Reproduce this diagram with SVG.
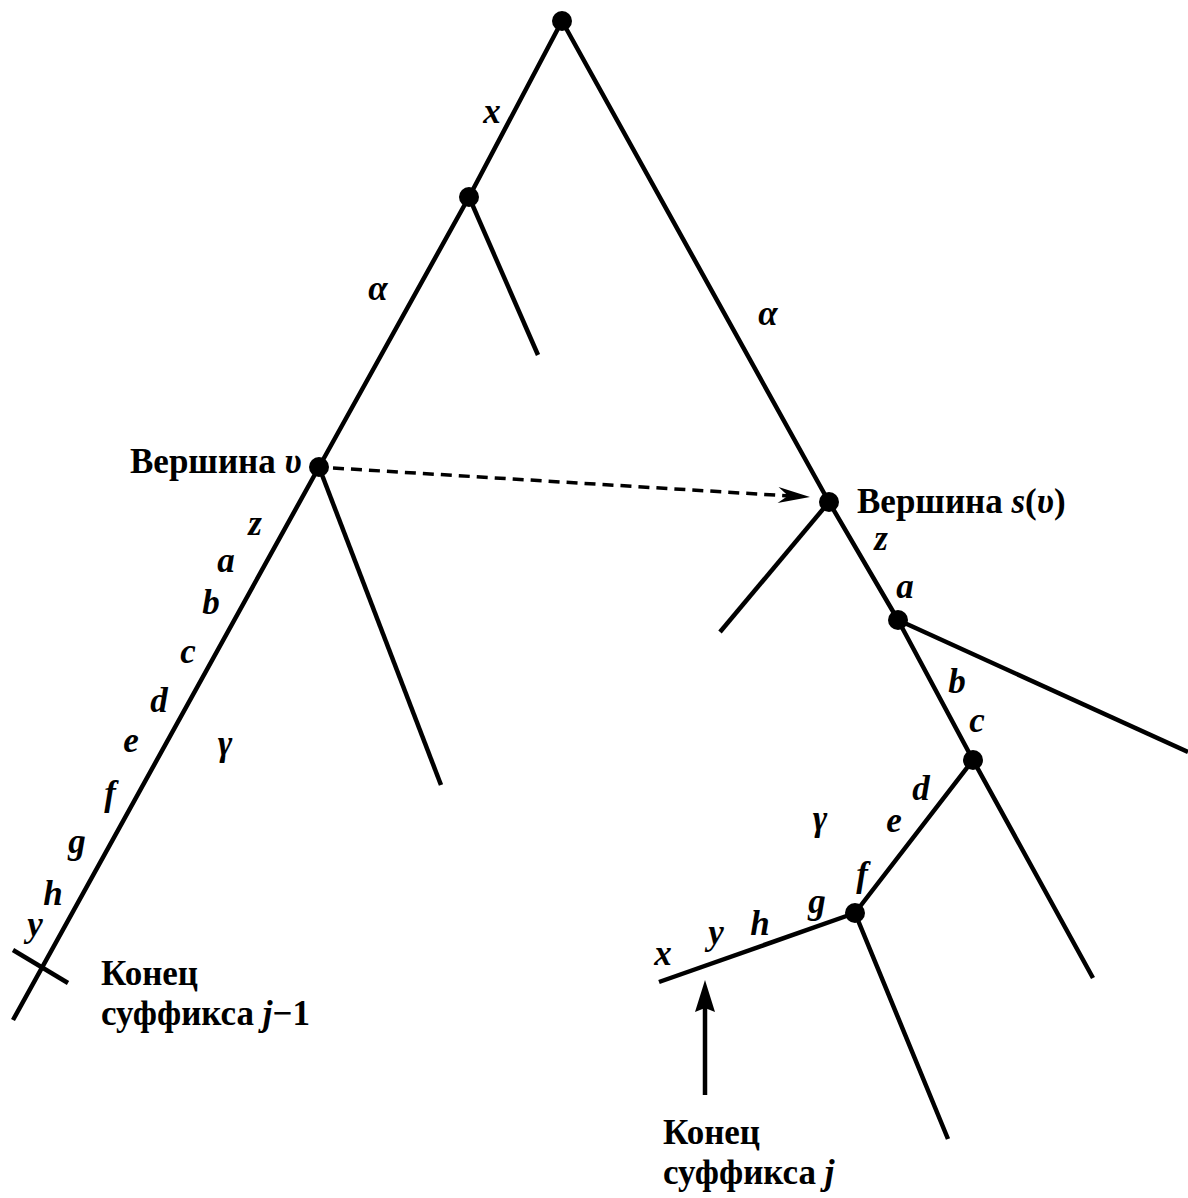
<svg xmlns="http://www.w3.org/2000/svg" width="1188" height="1198" viewBox="0 0 1188 1198">
<style>
.e{stroke:#000;stroke-width:4.5;fill:none;stroke-linecap:butt;stroke-linejoin:round}
.d{stroke:#000;stroke-width:3.5;fill:none;stroke-dasharray:11 7}
.n{fill:#000}
.t{font-family:"Liberation Serif","Times New Roman",serif;font-weight:bold;font-size:35px;fill:#000}
.l{font-family:"Liberation Serif","Times New Roman",serif;font-weight:bold;font-style:italic;font-size:35px;fill:#000;text-anchor:middle}
.i{font-style:italic}
</style>
<rect width="1188" height="1198" fill="#fff"/>
<g id="connectors">
<polyline class="e" points="562,21 469,197 319,467 13,1020"/>
<line class="e" x1="469" y1="197" x2="538" y2="355"/>
<line class="e" x1="319" y1="467" x2="441" y2="785"/>
<polyline class="e" points="562,21 829,502 898,620 973,760 1093,978"/>
<line class="e" x1="829" y1="502" x2="720" y2="632"/>
<line class="e" x1="898" y1="620" x2="1188" y2="752"/>
<polyline class="e" points="973,760 855,913 948,1139"/>
<line class="e" x1="855" y1="913" x2="659" y2="982"/>
<line class="e" x1="13" y1="950" x2="68" y2="983"/>
<line class="d" x1="333" y1="468" x2="790" y2="496"/>
<path class="n" d="M0,0 L-32,-8 L-22,0 L-32,8 Z" transform="translate(810,497) rotate(3.5)"/>
<line class="e" x1="705" y1="1095" x2="705" y2="1005"/>
<path class="n" d="M705,980 L715,1012 L705,1008 L695,1012 Z"/>
</g>
<g id="node-root"><circle class="n" cx="562" cy="21" r="10"/></g>
<g id="node-x"><circle class="n" cx="469" cy="197" r="10"/></g>
<g id="node-v"><circle class="n" cx="319" cy="467" r="10"/><text class="t" x="130" y="473">Вершина <tspan class="i">υ</tspan></text></g>
<g id="node-sv"><circle class="n" cx="829" cy="502" r="10"/><text class="t" x="857" y="513">Вершина <tspan class="i">s</tspan>(<tspan class="i">υ</tspan>)</text></g>
<g id="node-a"><circle class="n" cx="898" cy="620" r="10"/></g>
<g id="node-c"><circle class="n" cx="973" cy="760" r="10"/></g>
<g id="node-f"><circle class="n" cx="855" cy="913" r="10"/></g>
<g id="end-left"><text class="t" x="101" y="985">Конец</text><text class="t" x="101" y="1025">суффикса <tspan class="i">j</tspan>−1</text></g>
<g id="end-right"><text class="t" x="663" y="1144">Конец</text><text class="t" x="663" y="1184">суффикса <tspan class="i">j</tspan></text></g>
<g id="labels">
<text class="l" x="492" y="123">x</text>
<text class="l" x="378" y="300">α</text>
<text class="l" x="768" y="325">α</text>
<text class="l" x="255" y="535">z</text>
<text class="l" x="226" y="572">a</text>
<text class="l" x="211" y="614">b</text>
<text class="l" x="188" y="663">c</text>
<text class="l" x="159" y="712">d</text>
<text class="l" x="131" y="752">e</text>
<text class="l" x="225" y="755">γ</text>
<text class="l" x="110" y="805">f</text>
<text class="l" x="77" y="853">g</text>
<text class="l" x="53" y="905">h</text>
<text class="l" x="35" y="936">y</text>
<text class="l" x="881" y="550">z</text>
<text class="l" x="905" y="598">a</text>
<text class="l" x="957" y="693">b</text>
<text class="l" x="977" y="732">c</text>
<text class="l" x="921" y="800">d</text>
<text class="l" x="894" y="832">e</text>
<text class="l" x="820" y="830">γ</text>
<text class="l" x="862" y="886">f</text>
<text class="l" x="817" y="913">g</text>
<text class="l" x="760" y="935">h</text>
<text class="l" x="716" y="944">y</text>
<text class="l" x="663" y="965">x</text>
</g>
</svg>
